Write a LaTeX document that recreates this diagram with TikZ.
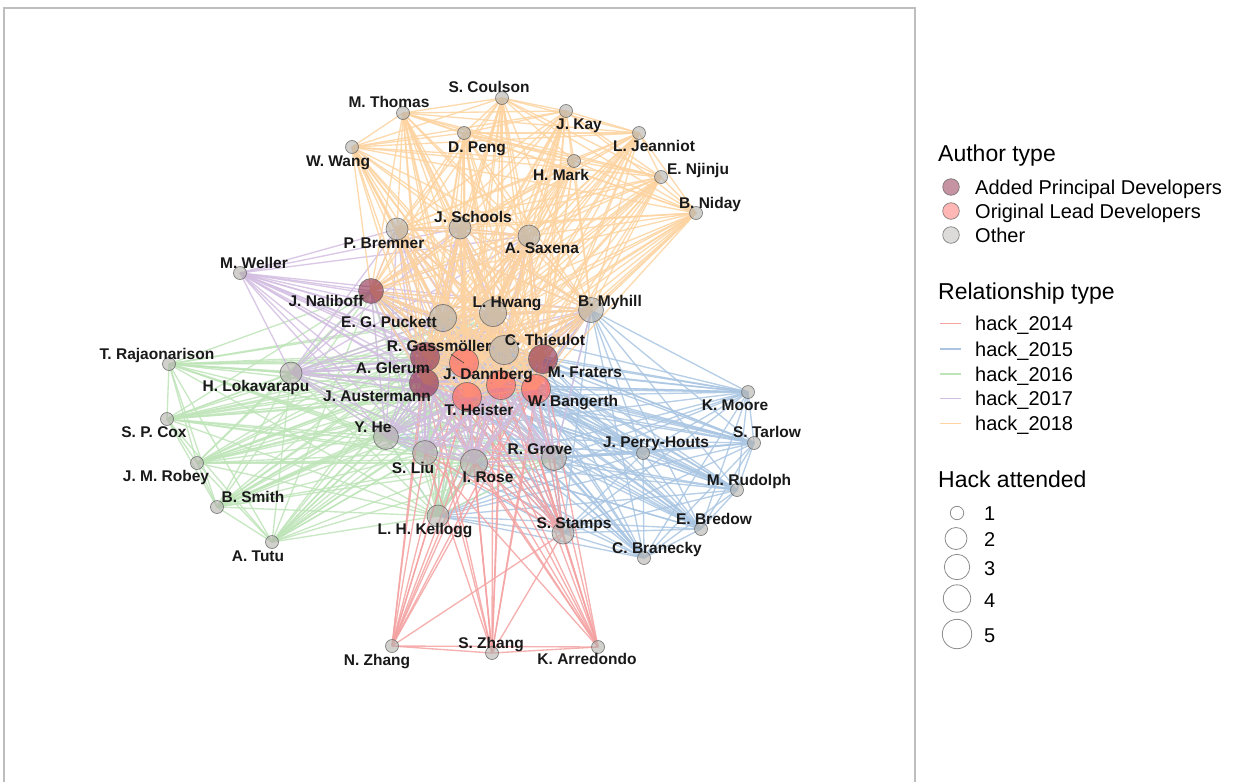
\documentclass[tikz,border=0pt]{standalone}
\usepackage{fontspec}
\setmainfont{Liberation Sans}
\usetikzlibrary{backgrounds,calc}
\definecolor{e14}{HTML}{F4A2A2}
\definecolor{e15}{HTML}{A9C5E2}
\definecolor{e16}{HTML}{BEE4B8}
\definecolor{e17}{HTML}{D3BEE2}
\definecolor{e18}{HTML}{FDD3A0}
\definecolor{nodeoth}{RGB}{178,176,172}
\definecolor{nodeapd}{RGB}{140,40,70}
\definecolor{nodeold}{RGB}{255,95,90}
\definecolor{framec}{RGB}{190,190,190}
\tikzset{
  nd/.style={circle, inner sep=0pt, draw=black!60, line width=0.7pt, fill opacity=0.6, draw opacity=0.8},
  oth/.style={nd, fill=nodeoth},
  apd/.style={nd, fill=nodeapd},
  old/.style={nd, fill=nodeold},
  sa/.style={minimum size=13pt},
  sb/.style={minimum size=22pt},
  sc/.style={minimum size=25pt},
  sd/.style={minimum size=27pt},
  se/.style={minimum size=29pt},
  lab/.style={inner sep=0pt, text height=11pt, text depth=0pt, font=\fontsize{15.5}{18}\selectfont\bfseries, text=black!90},
  edge/.style={line width=1.35pt, draw opacity=0.85},
  legt/.style={anchor=west, inner sep=0pt, text height=16.5pt, text depth=0pt, font=\fontsize{23}{27}\selectfont},
  legx/.style={anchor=west, inner sep=0pt, text height=14.3pt, text depth=0pt, font=\fontsize{20}{24}\selectfont},
  sizekey/.style={circle, inner sep=0pt, draw=black!45, line width=0.8pt, fill=white},
  legline/.style={line width=1.7pt},
}
\newcommand\mkclique[2]{%
  \foreach \a [count=\i] in {#2}{%
    \foreach \b [count=\j] in {#2}{%
      \ifnum\j>\i\relax \draw[edge,#1] (\a.center) -- (\b.center);\fi
    }}}
\begin{document}
\begin{tikzpicture}[x=1pt,y=-1pt]
\useasboundingbox (0,0) rectangle (1233,782);
\draw[framec, line width=1.2pt] (4,782) -- (4,8) -- (915,8) -- (915,782);

% nodes
\node[oth,sa] (coulson) at (502,98) {};
\node[oth,sa] (thomas) at (403,113) {};
\node[oth,sa] (kay) at (566,111) {};
\node[oth,sa] (peng) at (464,133) {};
\node[oth,sa] (jeanniot) at (639,133) {};
\node[oth,sa] (wang) at (352,147) {};
\node[oth,sa] (mark) at (574,161) {};
\node[oth,sa] (njinju) at (661,177) {};
\node[oth,sa] (niday) at (696,213) {};
\node[oth,sb] (schools) at (460,228) {};
\node[oth,sb] (bremner) at (397,229) {};
\node[oth,sb] (saxena) at (529,236) {};
\node[oth,sa] (weller) at (240,273) {};
\node[apd,sc] (naliboff) at (371,291) {};
\node[oth,sd] (hwang) at (493,313) {};
\node[oth,sc] (myhill) at (591,310) {};
\node[oth,sd] (puckett) at (443,318) {};
\node[oth,se] (thieulot) at (504,350) {};
\node[apd,se] (glerum) at (425,357) {};
\node[old,se] (gassm) at (464,363) {};
\node[apd,se] (fraters) at (543,359) {};
\node[apd,se] (austerm) at (424,383) {};
\node[old,se] (dannb) at (501,385) {};
\node[old,se] (heister) at (467,397) {};
\node[old,se] (bangerth) at (536,389) {};
\node[oth,sb] (lokav) at (291,373) {};
\node[oth,sa] (rajao) at (169,364) {};
\node[oth,sa] (cox) at (167,419) {};
\node[oth,sa] (robey) at (197,463) {};
\node[oth,sa] (smith) at (217,507) {};
\node[oth,sa] (tutu) at (272,542) {};
\node[oth,sc] (he) at (386,437) {};
\node[oth,sc] (liu) at (425,453) {};
\node[oth,sd] (rose) at (474,463) {};
\node[oth,sc] (grove) at (554,458) {};
\node[oth,sa] (perryh) at (643,453) {};
\node[oth,sa] (moore) at (748,392) {};
\node[oth,sa] (tarlow) at (754,443) {};
\node[oth,sa] (rudolph) at (737,490) {};
\node[oth,sa] (bredow) at (701,529) {};
\node[oth,sa] (branecky) at (644,558) {};
\node[oth,sb] (stamps) at (563,533) {};
\node[oth,sb] (kellogg) at (438,516) {};
\node[oth,sa] (nzhang) at (392,646) {};
\node[oth,sa] (szhang) at (492,653) {};
\node[oth,sa] (arredondo) at (598,647) {};

% edges
\begin{pgfonlayer}{background}
\mkclique{e15}{moore,tarlow,rudolph,bredow,branecky,perryh,grove,stamps,kellogg,myhill,rose,he,puckett,gassm,dannb,heister,bangerth,glerum,austerm,fraters,thieulot}
\mkclique{e16}{rajao,cox,robey,smith,tutu,lokav,he,liu,kellogg,naliboff,grove,rose,puckett,hwang,gassm,dannb,heister,bangerth,glerum,austerm,fraters,thieulot}
\mkclique{e14}{nzhang,szhang,arredondo,stamps,rose,liu,hwang,gassm,dannb,heister,bangerth,glerum,austerm,fraters,thieulot}
\mkclique{e17}{weller,naliboff,lokav,bremner,schools,saxena,he,liu,grove,rose,puckett,hwang,myhill,gassm,dannb,heister,bangerth,glerum,austerm,fraters,thieulot}
\mkclique{e18}{coulson,thomas,kay,jeanniot,peng,wang,mark,njinju,niday,schools,bremner,saxena,hwang,myhill,puckett,naliboff,gassm,dannb,heister,bangerth,glerum,austerm,fraters,thieulot}
\end{pgfonlayer}

% labels
\node[lab] (l-coulson) at (489,87) {S. Coulson};
\node[lab] (l-thomas) at (389,102) {M. Thomas};
\node[lab] (l-kay) at (579,124) {J. Kay};
\node[lab] (l-peng) at (477,147) {D. Peng};
\node[lab] (l-jeanniot) at (654,146) {L. Jeanniot};
\node[lab] (l-wang) at (338,161) {W. Wang};
\node[lab] (l-mark) at (561,175) {H. Mark};
\node[lab] (l-njinju) at (698,169) {E. Njinju};
\node[lab] (l-niday) at (710,203) {B. Niday};
\node[lab] (l-schools) at (473,217) {J. Schools};
\node[lab] (l-bremner) at (384,243) {P. Bremner};
\node[lab] (l-saxena) at (542,248) {A. Saxena};
\node[lab] (l-weller) at (254,263) {M. Weller};
\node[lab] (l-naliboff) at (326,301) {J. Naliboff};
\node[lab] (l-hwang) at (507,302) {L. Hwang};
\node[lab] (l-myhill) at (610,301) {B. Myhill};
\node[lab] (l-puckett) at (389,322) {E. G. Puckett};
\node[lab] (l-gassm) at (439,346) {R. Gassmöller};
\node[lab] (l-thieulot) at (545,340) {C. Thieulot};
\node[lab] (l-glerum) at (393,368) {A. Glerum};
\node[lab] (l-dannb) at (488,374) {J. Dannberg};
\node[lab] (l-fraters) at (585,372) {M. Fraters};
\node[lab] (l-austerm) at (377,396) {J. Austermann};
\node[lab] (l-heister) at (479,410) {T. Heister};
\node[lab] (l-bangerth) at (573,401) {W. Bangerth};
\node[lab] (l-lokav) at (256,386) {H. Lokavarapu};
\node[lab] (l-rajao) at (157,354) {T. Rajaonarison};
\node[lab] (l-cox) at (154,432) {S. P. Cox};
\node[lab] (l-robey) at (166,476) {J. M. Robey};
\node[lab] (l-smith) at (253,497) {B. Smith};
\node[lab] (l-tutu) at (258,556) {A. Tutu};
\node[lab] (l-he) at (373,427) {Y. He};
\node[lab] (l-liu) at (413,468) {S. Liu};
\node[lab] (l-rose) at (488,477) {I. Rose};
\node[lab] (l-grove) at (540,449) {R. Grove};
\node[lab] (l-perryh) at (656,442) {J. Perry-Houts};
\node[lab] (l-moore) at (735,405) {K. Moore};
\node[lab] (l-tarlow) at (767,432) {S. Tarlow};
\node[lab] (l-rudolph) at (749,480) {M. Rudolph};
\node[lab] (l-bredow) at (714,519) {E. Bredow};
\node[lab] (l-branecky) at (657,548) {C. Branecky};
\node[lab] (l-stamps) at (574,523) {S. Stamps};
\node[lab] (l-kellogg) at (425,529) {L. H. Kellogg};
\node[lab] (l-nzhang) at (377,660) {N. Zhang};
\node[lab] (l-szhang) at (491,643) {S. Zhang};
\node[lab] (l-arredondo) at (587,659) {K. Arredondo};
\draw[black!75, line width=0.6pt] (gassm.center) -- ($(gassm.center)!0.52!(l-gassm.center)$);

% legend: author type
\node[legt] (t-auth) at (938,153) {Author type};
\node[apd, minimum size=16.6pt, fill opacity=0.5] (k-apd) at (951,187) {};
\node[old, minimum size=16.6pt, fill opacity=0.45] (k-old) at (951,211) {};
\node[oth, minimum size=16.6pt, fill opacity=0.45] (k-oth) at (951,235) {};
\node[legx] (x-apd) at (975,187) {Added Principal Developers};
\node[legx] (x-old) at (975,211) {Original Lead Developers};
\node[legx] (x-oth) at (975,235) {Other};

% legend: relationship type
\node[legt] (t-rel) at (938,291) {Relationship type};
\coordinate (ra14) at (940,323.5); \coordinate (rb14) at (961,323.5);
\coordinate (ra15) at (940,349);   \coordinate (rb15) at (961,349);
\coordinate (ra16) at (940,374);   \coordinate (rb16) at (961,374);
\coordinate (ra17) at (940,398.5); \coordinate (rb17) at (961,398.5);
\coordinate (ra18) at (940,423.5); \coordinate (rb18) at (961,423.5);
\draw[legline, e14] (ra14) -- (rb14);
\draw[legline, e15] (ra15) -- (rb15);
\draw[legline, e16] (ra16) -- (rb16);
\draw[legline, e17] (ra17) -- (rb17);
\draw[legline, e18] (ra18) -- (rb18);
\node[legx] (x14) at (975,323.5) {hack\_2014};
\node[legx] (x15) at (975,349) {hack\_2015};
\node[legx] (x16) at (975,374) {hack\_2016};
\node[legx] (x17) at (975,398.5) {hack\_2017};
\node[legx] (x18) at (975,423.5) {hack\_2018};

% legend: hack attended
\node[legt] (t-hack) at (938,479) {Hack attended};
\node[sizekey, minimum size=13.4pt] (h1) at (957,513) {};
\node[sizekey, minimum size=22pt] (h2) at (956,538.5) {};
\node[sizekey, minimum size=25.4pt] (h3) at (957,567) {};
\node[sizekey, minimum size=27.4pt] (h4) at (957,598.5) {};
\node[sizekey, minimum size=29.4pt] (h5) at (957,634) {};
\node[legx] (x1) at (984,513) {1};
\node[legx] (x2) at (984,539) {2};
\node[legx] (x3) at (984,568) {3};
\node[legx] (x4) at (984,600.5) {4};
\node[legx] (x5) at (984,635) {5};
\end{tikzpicture}
\end{document}
